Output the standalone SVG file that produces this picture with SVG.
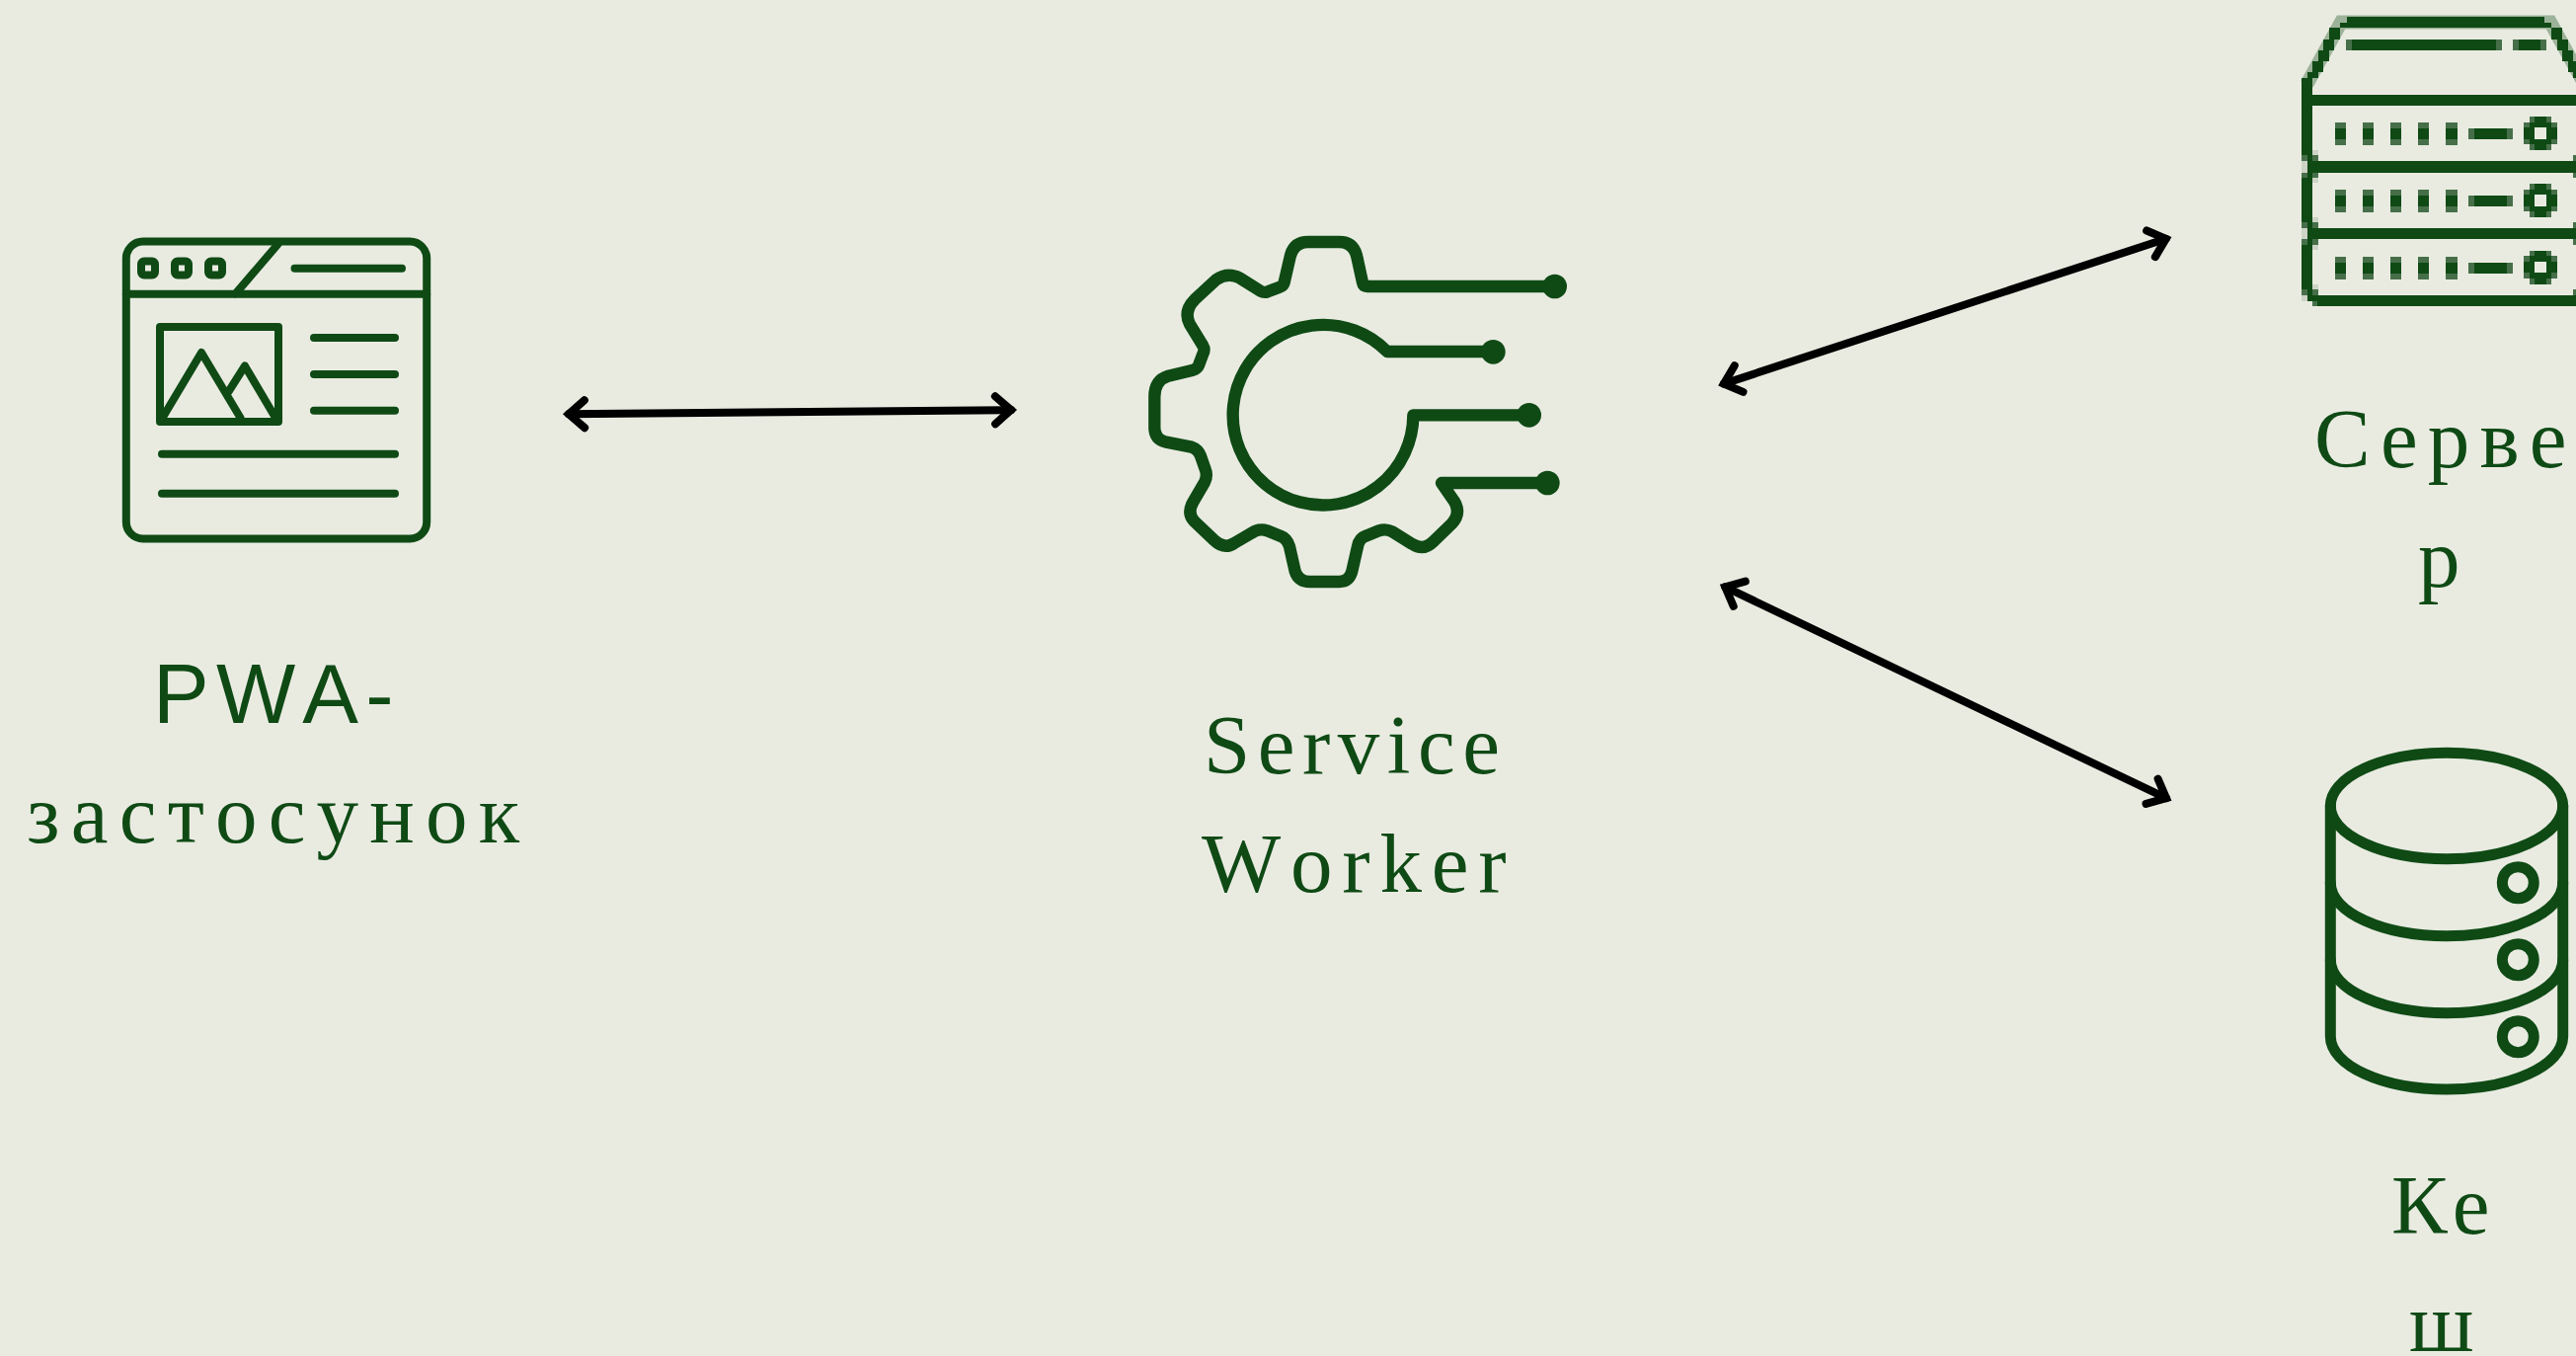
<svg xmlns="http://www.w3.org/2000/svg" width="2609" height="1373" viewBox="0 0 2609 1373">
<style>
.bg{fill:#e9ebe1}
.i{fill:none;stroke:#0f4a15;stroke-linecap:round;stroke-linejoin:round}
.d{fill:#0f4a15}
.px{fill:#0f4a15;shape-rendering:crispEdges}
.pm{fill:#466f49;shape-rendering:crispEdges}
.pl{fill:#cdd4c6;shape-rendering:crispEdges}
.t{fill:#0f4a15;font-size:85px;letter-spacing:8.5px;font-kerning:none;font-family:"Liberation Serif","Noto Sans CJK SC",serif}
.s{font-family:"Liberation Sans","Noto Sans CJK SC",sans-serif}
.a{fill:none;stroke:#000;stroke-width:8;stroke-linecap:round;marker-start:url(#h);marker-end:url(#h)}
</style>
<defs>
<marker id="h" markerUnits="userSpaceOnUse" markerWidth="60" markerHeight="60" refX="0" refY="0" viewBox="-40 -30 60 60" orient="auto-start-reverse" overflow="visible">
<path d="M-16 -14L0 0L-16 14" fill="none" stroke="#000" stroke-width="8" stroke-linecap="round" stroke-linejoin="miter"/>
</marker>
<g id="row">
<path class="pm" d="M2365 124h11v23h-11zM2393 124h11v23h-11zM2421 124h11v23h-11zM2449 124h11v23h-11zM2477 124h12v23h-12zM2500 130h45v11h-45z"/>
<path class="px" d="M2365 130h11v11h-11zM2393 130h11v11h-11zM2421 130h11v11h-11zM2449 130h11v11h-11zM2477 130h12v11h-12zM2506 130h33v11h-33z"/>
<path class="pm" d="M2561.7 118h5.7v5.7h-5.7zM2578.7 118h5.7v5.7h-5.7zM2556 123.7h5.7v5.7h-5.7zM2584.3 123.7h5.7v5.7h-5.7zM2556 140.7h5.7v5.7h-5.7zM2584.3 140.7h5.7v5.7h-5.7zM2561.7 146.3h5.7v5.7h-5.7zM2578.7 146.3h5.7v5.7h-5.7z"/>
<path class="px" d="M2567.3 118h11.4v5.7h-11.4zM2561.7 123.7h22.6v5.7h-22.6zM2556 129.3h11.3v11.4h-11.3zM2578.7 129.3h11.3v11.4h-11.3zM2561.7 140.7h22.6v5.7h-22.6zM2567.3 146.3h11.4v5.7h-11.4z"/>
</g>
</defs>
<rect class="bg" width="2609" height="1373"/>
<g id="pwa">
<g class="i" stroke-width="8">
<rect x="127.8" y="244.5" width="304.4" height="301" rx="17"/>
<path d="M127.8 297.7H432.2M281.7 247L238.3 297.7"/>
<rect x="143" y="264.5" width="14" height="14" rx="3"/>
<rect x="177" y="264.5" width="14" height="14" rx="3"/>
<rect x="211" y="264.5" width="14" height="14" rx="3"/>
<path d="M298.5 271.7H407"/>
<rect x="162" y="331" width="120" height="96"/>
<path d="M164 424L204 357L243.5 423M231.5 396.5L248 370.5L279 423"/>
<path d="M318 342H400M318 379H400M318 415.7H400M164 459.7H400M164 499.7H400"/>
</g>
<text class="t s" x="155" y="732" style="letter-spacing:7.2px">PWA-</text>
<text class="t" x="27" y="852.7" style="letter-spacing:11.2px">застосунок</text>
</g>
<g id="service-worker">
<g transform="translate(1130 210) scale(.33333)">
<path class="i" stroke-width="37" d="M1334 240H765Q752 240 750 228L734 155Q725 105 680 105H585Q540 105 530 150L512 228Q510 238 498 242L462 256Q450 260 440 254L378 215Q340 195 305 220L240 280Q205 315 225 355L265 420Q272 432 265 445L252 480Q248 490 235 494L160 512Q118 525 118 575V672Q120 705 150 712L230 728Q250 735 258 755L272 795Q280 815 270 835L235 895Q215 930 240 955L300 1012Q330 1040 360 1020L420 985Q440 975 460 982L500 998Q520 1005 528 1030L545 1105Q555 1137 590 1137H680Q710 1137 718 1105L735 1030Q740 1005 760 998L800 982Q820 975 840 985L900 1022Q935 1045 965 1015L1020 962Q1050 930 1030 895L990 837H1312"/>
<path class="i" stroke-width="37" d="M1147 438H825A274 274 0 1 0 904 631H1256"/>
<circle class="d" cx="1334" cy="240" r="37"/>
<circle class="d" cx="1147" cy="439" r="37"/>
<circle class="d" cx="1256" cy="631" r="37"/>
<circle class="d" cx="1312" cy="837" r="37"/>
</g>
<text class="t" x="1219" y="783.3" style="letter-spacing:7.5px">Service</text>
<text class="t" x="1217" y="903.3" style="letter-spacing:9.8px">Worker</text>
</g>
<g id="server">
<path d="M2336.5 85L2371 22.5H2583L2617.5 85" fill="none" stroke="#0f4a15" stroke-width="14" opacity=".35"/>
<path class="px" d="M2377 17H2577V23H2584V28H2370V23H2377zM2358.8 28h11.1v12h-11.1zM2353.2 40h11.2v11h-11.2zM2347.7 51h11.1v11h-11.1zM2342.1 62h11.1v11h-11.1zM2336.6 73h11.1v6h-11.1zM2584.1 28h11.1v12h-11.1zM2589.6 40h11.2v11h-11.2zM2595.2 51h11.1v11h-11.1zM2600.8 62h8.2v11h-8.2zM2606.3 73h2.7v6h-2.7z"/>
<path class="px" d="M2331 79h11v17h-11zM2331 96H2609V107H2331zM2336.6 107h5.5v192h-5.5zM2331 107h5.6v50h-5.6zM2331 180h5.6v45h-5.6zM2331 248h5.6v45h-5.6zM2342 163H2609V175H2342zM2342 231H2609V242H2342zM2336.6 299H2609V305H2336.6zM2347 305H2609V310H2347z"/>
<path class="pm" d="M2331 157h5.6v6h-5.6zM2331 175h5.6v5h-5.6zM2331 225h5.6v6h-5.6zM2331 242h5.6v6h-5.6zM2331 293h5.6v6h-5.6zM2342 157h5.6v6h-5.6zM2342 175h5.6v5h-5.6zM2342 225h5.6v6h-5.6zM2342 242h5.6v6h-5.6zM2342 293h5.6v6h-5.6zM2342 305h5v5h-5zM2606 157h3v6h-3zM2606 175h3v5h-3zM2606 225h3v6h-3zM2606 242h3v6h-3zM2606 293h3v6h-3zM2376 40h158v11h-158zM2545 40h34v11h-34z"/>
<path class="pl" d="M2331 163h5.6v12h-5.6zM2331 231h5.6v11h-5.6zM2331 299h5.6v6h-5.6zM2342 152h5.6v5h-5.6zM2342 180h5.6v5h-5.6zM2342 220h5.6v5h-5.6zM2342 248h5.6v5h-5.6zM2342 288h5.6v5h-5.6z"/>
<path class="px" d="M2382 40h146v11h-146zM2551 40h22v11h-22z"/>
<use href="#row"/>
<use href="#row" transform="translate(0 68)"/>
<use href="#row" transform="translate(0 135.5)"/>
<text class="t" x="2344" y="473.3" style="letter-spacing:10.2px">Серве</text>
<text class="t" x="2449" y="594">р</text>
</g>
<g id="cache">
<g class="i" stroke-width="11">
<ellipse cx="2478" cy="816" rx="117.7" ry="53.7"/>
<path d="M2360.3 816V1049.3C2360.3 1079 2413 1103 2478 1103S2595.7 1079 2595.7 1049.3V816"/>
<path d="M2360.3 894C2360.3 923.7 2413 947.7 2478 947.7S2595.7 923.7 2595.7 894"/>
<path d="M2360.3 972C2360.3 1001.7 2413 1025.7 2478 1025.7S2595.7 1001.7 2595.7 972"/>
<circle cx="2550.3" cy="893.7" r="16"/>
<circle cx="2550.3" cy="971.7" r="16"/>
<circle cx="2550.3" cy="1049.7" r="16"/>
</g>
<text class="t" x="2422" y="1249" style="letter-spacing:5px">Ке</text>
<text class="t" x="2440" y="1368">ш</text>
</g>
<g id="connectors">
<path class="a" d="M576 419.3L1024 415.1"/>
<path class="a" d="M1745.9 388.6L2193.7 241.8"/>
<path class="a" d="M1747.3 594.4L2194 808.2"/>
</g>
</svg>
